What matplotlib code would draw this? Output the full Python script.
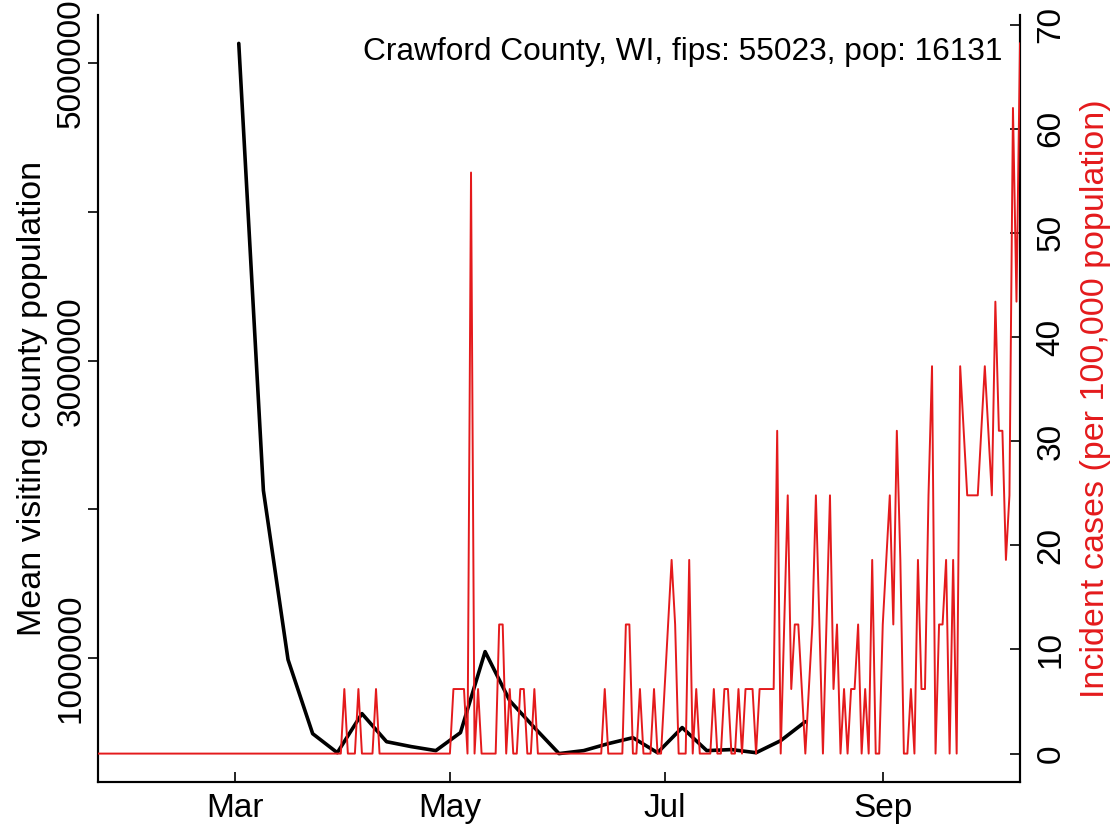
import matplotlib
matplotlib.use('Agg')
import matplotlib.pyplot as plt
import numpy as np
import pandas as pd

# ---------------- data ----------------
county_label = "Crawford County, WI, fips: 55023, pop: 16131"
population = 16131

# weekly mean visiting county population (black line)
visit_start = "2020-03-02"
mean_visiting_pop = [5135000, 2127000, 989000, 491000, 363000, 626000, 437000,
                     404000, 377000, 498000, 1043000, 713000, 532000, 357000,
                     377000, 424000, 464000, 363000, 532000, 377000, 384000,
                     363000, 444000, 572000]

# daily new cases (red line), starting 2020-01-22
case_start = "2020-01-22"
daily_cases = [
    0, 0, 0, 0, 0, 0, 0, 0, 0, 0,   # Jan 22 - Jan 31
    0, 0, 0, 0, 0, 0, 0, 0, 0, 0,   # Feb 1 - Feb 10
    0, 0, 0, 0, 0, 0, 0, 0, 0, 0,   # Feb 11 - Feb 20
    0, 0, 0, 0, 0, 0, 0, 0, 0, 0,   # Feb 21 - Mar 1
    0, 0, 0, 0, 0, 0, 0, 0, 0, 0,   # Mar 2 - Mar 11
    0, 0, 0, 0, 0, 0, 0, 0, 0, 0,   # Mar 12 - Mar 21
    0, 0, 0, 0, 0, 0, 0, 0, 0, 0,   # Mar 22 - Mar 31
    1, 0, 0, 0, 1, 0, 0, 0, 0, 1,   # Apr 1 - Apr 10
    0, 0, 0, 0, 0, 0, 0, 0, 0, 0,   # Apr 11 - Apr 20
    0, 0, 0, 0, 0, 0, 0, 0, 0, 0,   # Apr 21 - Apr 30
    0, 1, 1, 1, 1, 0, 9, 0, 1, 0,   # May 1 - May 10
    0, 0, 0, 0, 2, 2, 0, 1, 0, 0,   # May 11 - May 20
    1, 1, 0, 0, 1, 0, 0, 0, 0, 0,   # May 21 - May 30
    0, 0, 0, 0, 0, 0, 0, 0, 0, 0,   # May 31 - Jun 9
    0, 0, 0, 0, 1, 0, 0, 0, 0, 0,   # Jun 10 - Jun 19
    2, 2, 0, 0, 1, 0, 0, 0, 1, 0,   # Jun 20 - Jun 29
    0, 1, 2, 3, 2, 0, 0, 0, 3, 0,   # Jun 30 - Jul 9
    1, 0, 0, 0, 0, 1, 0, 0, 1, 1,   # Jul 10 - Jul 19
    0, 0, 1, 0, 1, 1, 1, 0, 1, 1,   # Jul 20 - Jul 29
    1, 1, 1, 5, 0, 2, 4, 1, 2, 2,   # Jul 30 - Aug 8
    1, 0, 1, 2, 4, 2, 0, 2, 4, 1,   # Aug 9 - Aug 18
    2, 0, 1, 0, 1, 1, 2, 0, 1, 0,   # Aug 19 - Aug 28
    3, 0, 0, 2, 3, 4, 2, 5, 3, 0,   # Aug 29 - Sep 7
    0, 1, 0, 3, 1, 1, 4, 6, 0, 2,   # Sep 8 - Sep 17
    2, 3, 0, 3, 0, 6, 5, 4, 4, 4,   # Sep 18 - Sep 27
    4, 5, 6, 5, 4, 7, 5, 5, 3, 4,   # Sep 28 - Oct 7
    10, 7, 11,                      # Oct 8 - Oct 10
]

month_ticks = ["2020-03-01", "2020-05-01", "2020-07-01", "2020-09-01"]
month_labels = ["Mar", "May", "Jul", "Sep"]
left_ticks = [1000000, 2000000, 3000000, 4000000, 5000000]
left_labels = ["1000000", "", "3000000", "", "5000000"]
right_ticks = [0, 10, 20, 30, 40, 50, 60, 70]

# ---------------- derived ----------------
visit_dates = pd.date_range(visit_start, periods=len(mean_visiting_pop), freq="7D")
case_dates = pd.date_range(case_start, periods=len(daily_cases), freq="D")
incidence = np.array(daily_cases) * 100000.0 / population

def r_range(vals):
    lo, hi = float(np.min(vals)), float(np.max(vals))
    pad = 0.04 * (hi - lo)
    return lo - pad, hi + pad

# ---------------- figure ----------------
plt.rcParams['font.family'] = ['Liberation Sans', 'DejaVu Sans']
FS = 24
W, H = 1119, 826
fig = plt.figure(figsize=(W / 100, H / 100), dpi=100)
L, R, T, B = 98, 1020, 15, 782
ax = fig.add_axes([L / W, 1 - B / H, (R - L) / W, (B - T) / H])

ax.plot(visit_dates, mean_visiting_pop, color="black", lw=2.6, zorder=2,
        solid_joinstyle="round", solid_capstyle="round")
ax.set_ylim(*r_range(mean_visiting_pop))
ax.set_xlim(case_dates[0], case_dates[-1])
ax.set_yticks(left_ticks)
ax.set_yticklabels(left_labels, rotation=90, va="center")
ax.set_xticks(pd.to_datetime(month_ticks))
ax.set_xticklabels(month_labels)
ax.set_ylabel("Mean visiting county population", fontsize=24.5, labelpad=6)
ax.tick_params(axis="y", labelsize=FS, length=7, width=1.2, direction="out", pad=1)
ax.tick_params(axis="x", labelsize=FS, length=7, width=1.2, direction="in", pad=8)

ax2 = ax.twinx()
ax2.plot(case_dates, incidence, color="#E41A1C", lw=1.4, zorder=3)
ax2.set_ylim(*r_range(incidence))
ax2.set_yticks(right_ticks)
ax2.set_yticklabels([str(t) for t in right_ticks], rotation=90, va="center")
ax2.tick_params(axis="y", labelsize=FS, length=7, width=1.2, direction="in", pad=11)
ax2.set_ylabel("Incident cases (per 100,000 population)", color="#E41A1C",
               fontsize=24.5, labelpad=10)
ax2.set_xlim(case_dates[0], case_dates[-1])

for a in (ax, ax2):
    a.spines["top"].set_visible(False)
    for s in ("left", "right", "bottom"):
        a.spines[s].set_linewidth(1.5)
ax2.set_zorder(ax.get_zorder() + 1)
ax2.patch.set_visible(False)

fig.text(1002 / W, 1 - 52 / H, county_label, ha="right", va="center", fontsize=22.8)

fig.savefig("out.png", dpi=100)
